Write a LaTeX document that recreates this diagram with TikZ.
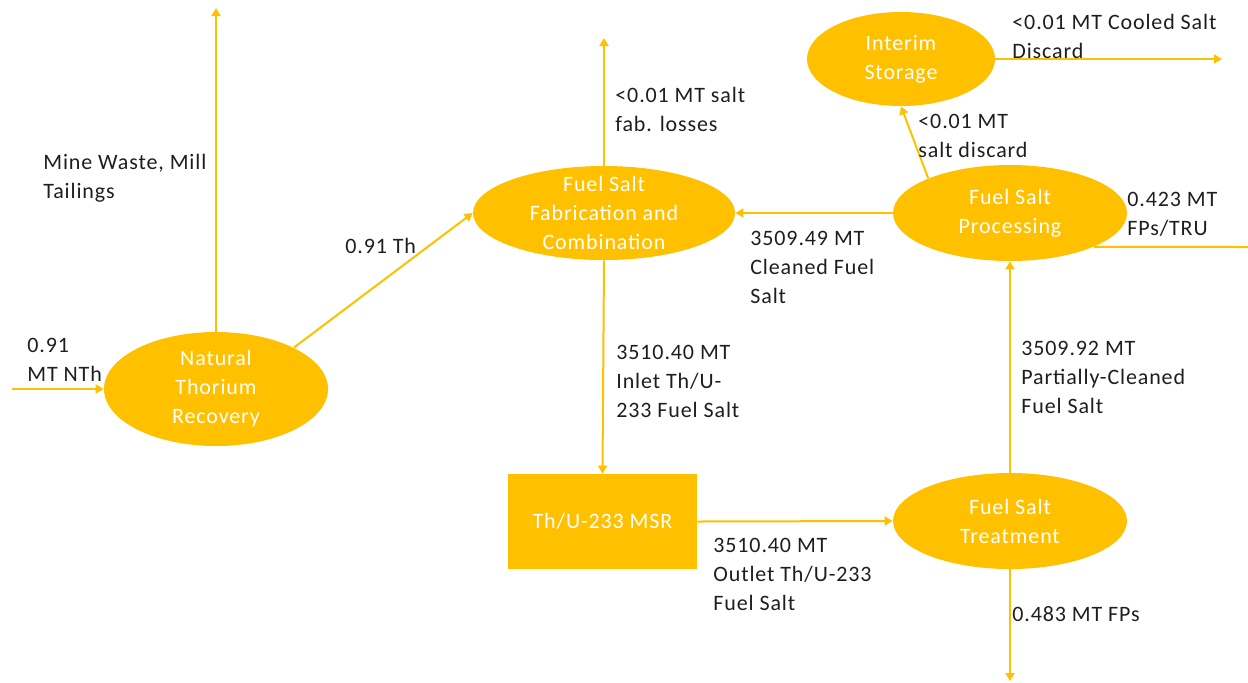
\documentclass[tikz,border=0pt]{standalone}
\usepackage{fontspec}
\setmainfont{Carlito}[LetterSpace=4]
\usetikzlibrary{arrows.meta,shapes.geometric}
\definecolor{gold}{HTML}{FFC000}
\definecolor{ink}{HTML}{1E1E1E}
\begin{document}
\begin{tikzpicture}[x=0.5pt,y=-0.5pt,
  stage/.style={ellipse, fill=gold, draw=none, inner sep=0pt},
  plant/.style={rectangle, fill=gold, draw=none, inner sep=0pt},
  stagetext/.style={text=white, inner sep=0pt, align=center, font=\fontsize{11}{14.5}\selectfont},
  flow/.style={draw=gold, line width=1pt, -{Triangle[length=4pt,width=4.5pt]}},
  plainflow/.style={draw=gold, line width=1pt},
  lbl/.style={anchor=north west, inner sep=0pt, text=ink, align=left, font=\fontsize{11}{14.5}\selectfont}]
\useasboundingbox (0,0) rectangle (1248,682);

% process stages
\node[stage, minimum width=112pt, minimum height=57pt] (ntr) at (216,389) {};
\node[stagetext] (ntr-t) at (ntr) {Natural\\Thorium\\Recovery};
\node[stage, minimum width=131pt, minimum height=47pt] (fab) at (604,213) {};
\node[stagetext] (fab-t) at (fab) {Fuel Salt\\Fabrication and\\Combination};
\node[stage, minimum width=94pt, minimum height=47pt] (int) at (901,59) {};
\node[stagetext] (int-t) at (int) {Interim\\Storage};
\node[stage, minimum width=117pt, minimum height=48pt] (proc) at (1010,213) {};
\node[stagetext] (proc-t) at (proc) {Fuel Salt\\Processing};
\node[stage, minimum width=117pt, minimum height=48pt] (treat) at (1010,521) {};
\node[stagetext] (treat-t) at (treat) {Fuel Salt\\Treatment};
\node[plant, minimum width=94.5pt, minimum height=47.5pt] (msr) at (602.5,521.5) {};
\node[stagetext] (msr-t) at (msr) {Th/U-233 MSR};

% free ends of the flows
\coordinate (feed) at (12,389);
\coordinate (mw) at (216,8);
\coordinate (fabloss) at (604,38);
\coordinate (fps) at (1010,681);
\coordinate (trux) at (1248,247);
\coordinate (cool) at (1222,59);

% flows
\draw[flow] (feed) -- (ntr.west);
\draw[flow] (ntr.north) -- (mw);
\draw[flow] (ntr.28) -- (fab.west);
\draw[flow] (fab.north) -- (fabloss);
\draw[flow] (fab.south) -- (msr.north);
\draw[flow] (msr.east) -- (treat.west);
\draw[flow] (treat.north) -- (proc.south);
\draw[flow] (treat.south) -- (fps);
\draw[flow] (proc.west) -- (fab.east);
\draw[flow] (proc.157) -- (int.south);
\draw[plainflow] (proc.-22) -- (trux);
\draw[flow] (int.east) -- (cool);

% flow labels
\node[lbl] (l-feed) at (27,338) {0.91\\MT NTh};
\node[lbl] (l-mw) at (43,154) {Mine Waste, Mill\\Tailings};
\node[lbl] (l-th) at (345,238) {0.91 Th};
\node[lbl] (l-fab) at (615,87) {<0.01 MT salt\\fab. losses};
\node[lbl] (l-inlet) at (616,345) {3510.40 MT\\Inlet Th/U-\\233 Fuel Salt};
\node[lbl] (l-clean) at (750,231) {3509.49 MT\\Cleaned Fuel\\Salt};
\node[lbl] (l-disc) at (918,114) {<0.01 MT\\salt discard};
\node[lbl] (l-tru) at (1127,192) {0.423 MT\\FPs/TRU};
\node[lbl] (l-cool) at (1012,14) {<0.01 MT Cooled Salt\\Discard};
\node[lbl] (l-part) at (1021,341) {3509.92 MT\\Partially-Cleaned\\Fuel Salt};
\node[lbl] (l-outlet) at (713,538) {3510.40 MT\\Outlet Th/U-233\\Fuel Salt};
\node[lbl] (l-fps) at (1012,606) {0.483 MT FPs};
\end{tikzpicture}
\end{document}
